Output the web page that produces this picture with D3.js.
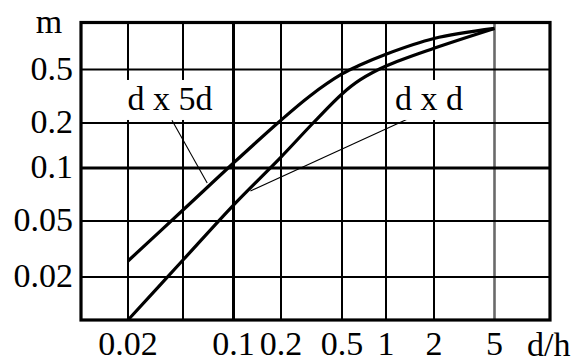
<!DOCTYPE html>
<html>
<head>
<meta charset="utf-8">
<script src="https://cdn.jsdelivr.net/npm/d3@7"></script>
<style>
  html, body { margin: 0; padding: 0; background: #fff; }
  svg { display: block; }
</style>
</head>
<body>
<svg id="chart" width="573" height="363"></svg>
<script>
// Axis ticks and grid
const xTickValues = [0.02, 0.1, 0.2, 0.5, 1, 2, 5];
const xTickLabels = ["0.02", "0.1", "0.2", "0.5", "1", "2", "5"];
const xGridValues = [0.02, 0.05, 0.1, 0.2, 0.5, 1, 2, 5];
const yTickValues = [0.5, 0.2, 0.1, 0.05, 0.02];
const yTickLabels = ["0.5", "0.2", "0.1", "0.05", "0.02"];
const yGridValues = [0.5, 0.2, 0.1, 0.05, 0.02];

// Curve "d x 5d"
const ratioD5d = [0.02, 0.05, 0.1, 0.194, 0.309, 0.5, 0.664, 1, 2, 5];
const mD5d     = [0.026, 0.0577, 0.108, 0.2035, 0.318, 0.463, 0.534, 0.627, 0.79, 0.916];

// Curve "d x d"
const ratioDd = [0.02, 0.05, 0.1, 0.2, 0.324, 0.5, 0.664, 1, 2, 5];
const mDd     = [0.01, 0.0264, 0.0616, 0.1184, 0.2, 0.329, 0.418, 0.526, 0.684, 0.916];

// Curve labels with leader lines (data coordinates)
const labelText = ["d x 5d", "d x d"];
const labelX    = [0.0403, 1.86];
const labelY    = [0.25, 0.25];
const leaderX1  = [0.0416, 1.456];
const leaderY1  = [0.21, 0.222];
const leaderX2  = [0.0697, 0.128];
const leaderY2  = [0.0822, 0.074];

const FONT = "'Liberation Serif', 'Times New Roman', serif";
const FONT_SIZE = "34px";
// Serif text styling applied on each text node
const styleText = sel => sel
  .style("font-family", FONT)
  .style("font-size", FONT_SIZE)
  .style("fill", "#000");

const svg = d3.select("#chart");

// Piecewise log scales: each grid segment keeps its own drawn width
const x = d3.scaleLog()
  .domain([0.01, 0.02, 0.05, 0.1, 0.2, 0.5, 1, 2, 5, 11.6])
  .range([81, 128, 183, 233.5, 281, 342, 386, 434, 494.5, 550]);
const y = d3.scaleLog()
  .domain([1, 0.5, 0.2, 0.1, 0.05, 0.02, 0.01])
  .range([22.5, 69.5, 123, 168, 221, 277, 320]);

const x0 = x(0.01), x1 = x(11.6), yTop = y(1), yBot = y(0.01);

// Grid
const grid = svg.append("g");
grid.selectAll("line.v").data(xGridValues).join("line")
  .attr("x1", d => x(d)).attr("x2", d => x(d))
  .attr("y1", yTop).attr("y2", yBot)
  .attr("stroke", d => d === 5 ? "#6a6a6a" : "#000")
  .attr("stroke-width", d => d === 0.1 ? 3 : (d === 5 ? 2.6 : 2));
grid.selectAll("line.h").data(yGridValues).join("line")
  .attr("x1", x0).attr("x2", x1)
  .attr("y1", d => y(d)).attr("y2", d => y(d))
  .attr("stroke", "#000")
  .attr("stroke-width", d => d === 0.1 ? 3 : 2);

// Frame
svg.append("rect")
  .attr("x", x0).attr("y", yTop)
  .attr("width", x1 - x0).attr("height", yBot - yTop)
  .attr("fill", "none").attr("stroke", "#000").attr("stroke-width", 3.2);

// Curves
const line = d3.line()
  .x(d => x(d[0])).y(d => y(d[1]))
  .curve(d3.curveCatmullRom.alpha(0.5));
const series = [
  d3.zip(ratioD5d, mD5d),
  d3.zip(ratioDd, mDd)
];
svg.append("g").selectAll("path").data(series).join("path")
  .attr("d", line)
  .attr("fill", "none")
  .attr("stroke", "#000")
  .attr("stroke-width", 3.2)
  .attr("stroke-linejoin", "round");

// Leader lines
const notes = labelText.map((t, i) => ({
  text: t, x: labelX[i], y: labelY[i],
  x1: leaderX1[i], y1: leaderY1[i], x2: leaderX2[i], y2: leaderY2[i]
}));
svg.append("g").selectAll("line").data(notes).join("line")
  .attr("x1", d => x(d.x1)).attr("y1", d => y(d.y1))
  .attr("x2", d => x(d.x2)).attr("y2", d => y(d.y2))
  .attr("stroke", "#000").attr("stroke-width", 1.1);

// Curve labels on white patches
const noteG = svg.append("g").selectAll("g").data(notes).join("g");
noteG.append("text")
  .attr("x", d => x(d.x)).attr("y", d => y(d.y))
  .attr("text-anchor", "middle")
  .call(styleText)
  .text(d => d.text);
noteG.each(function () {
  const g = d3.select(this);
  const bb = g.select("text").node().getBBox();
  g.insert("rect", "text")
    .attr("x", bb.x - 6).attr("y", bb.y)
    .attr("width", bb.width + 12).attr("height", bb.height + 3)
    .attr("fill", "#fff");
});

// X tick labels
svg.append("g").selectAll("text").data(xTickValues).join("text")
  .attr("x", d => x(d)).attr("y", 355)
  .attr("text-anchor", "middle")
  .call(styleText)
  .text((d, i) => xTickLabels[i]);
svg.append("text")
  .attr("x", x1 - 23).attr("y", 356)
  .attr("text-anchor", "start")
  .call(styleText)
  .text("d/h");

// Y tick labels
svg.append("g").selectAll("text").data(yTickValues).join("text")
  .attr("x", 73).attr("y", d => y(d))
  .attr("dy", "0.3em")
  .attr("text-anchor", "end")
  .call(styleText)
  .text((d, i) => yTickLabels[i]);
svg.append("text")
  .attr("x", 49).attr("y", yTop + 10)
  .attr("text-anchor", "middle")
  .call(styleText)
  .text("m");
</script>
</body>
</html>
